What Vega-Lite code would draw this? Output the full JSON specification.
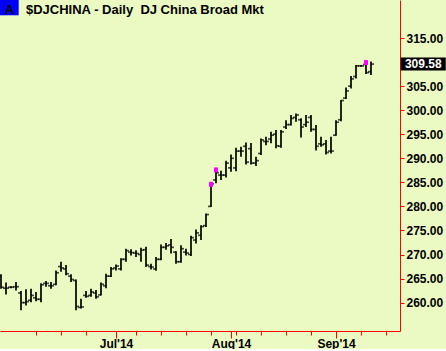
{
  "$schema": "https://vega.github.io/schema/vega-lite/v6.json",
  "width": 400,
  "height": 331,
  "padding": 0,
  "autosize": {"type": "pad"},
  "background": "#ebfac3",
  "config": {
    "view": {"stroke": null},
    "axis": {"labelFont": "Liberation Sans", "labelFontSize": 12, "labelFontWeight": "bold", "labelColor": "#000000", "domainColor": "#ff0000", "tickColor": "#ff0000", "domainWidth": 1, "tickWidth": 1, "grid": false, "labelOverlap": false, "labelBound": false, "labelFlush": false, "tickCount": 100}
  },
  "data": {"values": [
    {"i":0,"o":265.5,"h":265.9,"l":262.9,"c":263.2},
    {"i":1,"o":263.0,"h":264.2,"l":261.7,"c":263.0},
    {"i":2,"o":263.2,"h":263.4,"l":263.0,"c":263.2},
    {"i":3,"o":263.3,"h":264.3,"l":262.5,"c":263.3},
    {"i":4,"o":262.0,"h":262.4,"l":258.4,"c":260.0},
    {"i":5,"o":260.0,"h":262.8,"l":259.4,"c":260.2},
    {"i":6,"o":260.5,"h":262.9,"l":260.1,"c":261.5},
    {"i":7,"o":261.0,"h":262.2,"l":260.3,"c":260.7},
    {"i":8,"o":260.7,"h":264.0,"l":260.1,"c":263.7},
    {"i":9,"o":264.0,"h":264.5,"l":263.3,"c":264.0},
    {"i":10,"o":263.5,"h":264.3,"l":262.9,"c":263.5},
    {"i":11,"o":263.8,"h":266.7,"l":263.6,"c":266.2},
    {"i":12,"o":267.5,"h":268.5,"l":266.4,"c":267.2},
    {"i":13,"o":267.0,"h":267.8,"l":265.7,"c":266.0},
    {"i":14,"o":265.5,"h":265.9,"l":264.3,"c":264.8},
    {"i":15,"o":264.6,"h":264.8,"l":258.4,"c":259.2},
    {"i":16,"o":259.0,"h":260.8,"l":258.8,"c":259.1},
    {"i":17,"o":261.5,"h":262.4,"l":261.0,"c":261.3},
    {"i":18,"o":261.5,"h":262.9,"l":261.2,"c":262.2},
    {"i":19,"o":262.0,"h":262.6,"l":260.8,"c":261.2},
    {"i":20,"o":261.6,"h":264.2,"l":261.5,"c":263.8},
    {"i":21,"o":263.5,"h":266.0,"l":263.0,"c":265.5},
    {"i":22,"o":265.5,"h":267.4,"l":265.3,"c":267.0},
    {"i":23,"o":267.2,"h":267.9,"l":266.7,"c":267.6},
    {"i":24,"o":267.0,"h":269.2,"l":266.7,"c":269.0},
    {"i":25,"o":269.0,"h":271.2,"l":268.5,"c":270.8},
    {"i":26,"o":270.5,"h":271.1,"l":269.8,"c":270.4},
    {"i":27,"o":270.3,"h":270.9,"l":269.5,"c":270.2},
    {"i":28,"o":270.0,"h":271.4,"l":268.5,"c":270.9},
    {"i":29,"o":271.0,"h":271.6,"l":267.4,"c":267.8},
    {"i":30,"o":267.5,"h":268.1,"l":266.9,"c":267.4},
    {"i":31,"o":267.0,"h":269.5,"l":266.6,"c":269.0},
    {"i":32,"o":269.0,"h":272.1,"l":268.8,"c":271.5},
    {"i":33,"o":271.5,"h":272.4,"l":271.0,"c":271.8},
    {"i":34,"o":272.0,"h":273.2,"l":270.2,"c":271.5},
    {"i":35,"o":270.5,"h":270.7,"l":268.1,"c":268.5},
    {"i":36,"o":268.5,"h":271.9,"l":268.3,"c":271.2},
    {"i":37,"o":270.5,"h":271.2,"l":269.8,"c":270.3},
    {"i":38,"o":270.0,"h":273.9,"l":269.7,"c":273.5},
    {"i":39,"o":273.0,"h":275.2,"l":272.3,"c":274.5},
    {"i":40,"o":274.0,"h":276.1,"l":273.0,"c":275.8},
    {"i":41,"o":276.0,"h":278.5,"l":275.7,"c":278.3},
    {"i":42,"o":280.0,"h":284.9,"l":279.9,"c":284.7,"flag":true},
    {"i":43,"o":285.5,"h":287.9,"l":284.8,"c":287.0,"flag":true},
    {"i":44,"o":286.5,"h":287.4,"l":285.5,"c":286.5},
    {"i":45,"o":286.5,"h":289.5,"l":286.0,"c":289.0},
    {"i":46,"o":288.0,"h":290.8,"l":287.2,"c":290.0},
    {"i":47,"o":288.0,"h":292.2,"l":287.3,"c":291.5},
    {"i":48,"o":291.5,"h":292.4,"l":290.3,"c":291.5},
    {"i":49,"o":292.5,"h":293.3,"l":288.7,"c":289.2},
    {"i":50,"o":292.0,"h":293.2,"l":288.7,"c":289.0},
    {"i":51,"o":289.0,"h":290.3,"l":288.4,"c":289.5},
    {"i":52,"o":291.0,"h":294.1,"l":290.7,"c":293.8},
    {"i":53,"o":293.5,"h":294.5,"l":292.7,"c":293.5},
    {"i":54,"o":294.0,"h":295.5,"l":293.1,"c":294.8},
    {"i":55,"o":295.0,"h":295.9,"l":292.1,"c":292.6},
    {"i":56,"o":292.5,"h":295.9,"l":292.2,"c":295.5},
    {"i":57,"o":296.5,"h":297.9,"l":296.1,"c":297.0},
    {"i":58,"o":297.0,"h":299.0,"l":296.8,"c":298.3},
    {"i":59,"o":298.5,"h":299.3,"l":297.6,"c":299.0},
    {"i":60,"o":298.0,"h":298.3,"l":294.3,"c":296.5},
    {"i":61,"o":297.0,"h":299.0,"l":296.5,"c":297.5},
    {"i":62,"o":298.5,"h":299.0,"l":295.5,"c":296.0},
    {"i":63,"o":296.0,"h":296.9,"l":291.6,"c":292.5},
    {"i":64,"o":293.0,"h":294.5,"l":292.4,"c":292.8},
    {"i":65,"o":293.0,"h":293.8,"l":290.8,"c":291.2},
    {"i":66,"o":291.5,"h":294.5,"l":291.0,"c":291.5},
    {"i":67,"o":294.8,"h":297.9,"l":294.7,"c":297.5},
    {"i":68,"o":298.0,"h":302.1,"l":297.7,"c":302.0},
    {"i":69,"o":302.5,"h":304.7,"l":302.3,"c":304.0},
    {"i":70,"o":305.0,"h":307.1,"l":304.5,"c":306.5},
    {"i":71,"o":307.0,"h":309.4,"l":306.6,"c":309.2},
    {"i":72,"o":309.2,"h":309.4,"l":309.0,"c":309.2},
    {"i":73,"o":309.5,"h":310.2,"l":307.5,"c":307.8,"flag":true},
    {"i":74,"o":308.0,"h":310.1,"l":307.3,"c":309.58}
  ]},
  "layer": [
    {
      "mark": {"type": "rule", "color": "#000000", "strokeWidth": 1.7, "clip": true},
      "encoding": {
        "x": {"field": "i", "type": "quantitative",
          "scale": {"domain": [-0.2, 79.8], "nice": false, "zero": false},
          "axis": {"orient": "bottom", "title": null, "tickCount": 100,
            "values": [7,12,17,23,27,32,37,42,46,47,52,57,62,67,72,77],
            "tickSize": {"condition": {"test": "datum.value == 23 || datum.value == 46 || datum.value == 67", "value": 7}, "value": 4},
            "labelExpr": "datum.value == 23 ? \"Jul'14\" : datum.value == 46 ? \"Aug'14\" : datum.value == 67 ? \"Sep'14\" : ''",
            "labelOverlap": false, "labelPadding": 0}},
        "y": {"field": "l", "type": "quantitative",
          "scale": {"domain": [254.1, 322.9], "nice": false, "zero": false},
          "axis": {"orient": "right", "title": null, "tickCount": 100, "values": [260,265,270,275,280,285,290,295,300,305,315],
            "format": ".2f", "tickSize": 4, "labelPadding": 2, "labelOverlap": false}},
        "y2": {"field": "h"}
      }
    },
    {
      "mark": {"type": "tick", "orient": "horizontal", "color": "#000000", "size": 3, "thickness": 1.7, "xOffset": -1.5, "clip": true},
      "encoding": {"x": {"field": "i", "type": "quantitative", "axis": {"title": null}}, "y": {"field": "o", "type": "quantitative", "axis": {"title": null}}}
    },
    {
      "mark": {"type": "tick", "orient": "horizontal", "color": "#000000", "size": 3, "thickness": 1.7, "xOffset": 1.5, "clip": true},
      "encoding": {"x": {"field": "i", "type": "quantitative", "axis": {"title": null}}, "y": {"field": "c", "type": "quantitative", "axis": {"title": null}}}
    },
    {
      "transform": [{"filter": "datum.flag"}],
      "mark": {"type": "tick", "orient": "vertical", "color": "#ff00ff", "size": 5, "thickness": 4, "yOffset": 1.5, "opacity": 1},
      "encoding": {"x": {"field": "i", "type": "quantitative", "axis": {"title": null}}, "y": {"field": "h", "type": "quantitative", "axis": {"title": null}}}
    },
    {
      "data": {"values": [{"tag": "A", "title": "$DJCHINA - Daily \u00a0DJ China Broad Mkt"}]},
      "layer": [
        {
          "mark": {"type": "rect", "color": "#0000ff"},
          "encoding": {
            "x": {"datum": -0.2, "type": "quantitative", "axis": {"title": null}}, "x2": {"datum": 3.54},
            "y": {"datum": 322.9, "type": "quantitative", "axis": {"title": null}}, "y2": {"datum": 319.72}
          }
        },
        {
          "mark": {"type": "text", "color": "#000000", "font": "Liberation Sans", "fontSize": 13, "fontWeight": "bold", "align": "center", "baseline": "alphabetic"},
          "encoding": {
            "x": {"datum": 1.7, "type": "quantitative", "axis": {"title": null}},
            "y": {"datum": 320.0, "type": "quantitative", "axis": {"title": null}},
            "text": {"field": "tag"}
          }
        },
        {
          "mark": {"type": "text", "color": "#000000", "font": "Liberation Sans", "fontSize": 13, "fontWeight": "bold", "align": "left", "baseline": "alphabetic"},
          "encoding": {
            "x": {"datum": 5.0, "type": "quantitative", "axis": {"title": null}},
            "y": {"datum": 320.0, "type": "quantitative", "axis": {"title": null}},
            "text": {"field": "title"}
          }
        }
      ]
    },
    {
      "transform": [{"filter": "datum.i == 74"}],
      "mark": {"type": "tick", "orient": "vertical", "color": "#000000", "size": 13, "thickness": 45, "opacity": 1},
      "encoding": {"x": {"datum": 84.45, "type": "quantitative", "axis": {"title": null}}, "y": {"field": "c", "type": "quantitative", "axis": {"title": null}}}
    },
    {
      "transform": [{"filter": "datum.i == 74"}],
      "mark": {"type": "text", "color": "#ffffff", "font": "Liberation Sans", "fontSize": 12, "fontWeight": "bold", "align": "center", "baseline": "middle"},
      "encoding": {"x": {"datum": 84.45, "type": "quantitative", "axis": {"title": null}}, "y": {"field": "c", "type": "quantitative", "axis": {"title": null}}, "text": {"field": "c", "type": "quantitative", "format": ".2f"}}
    }
  ]
}
